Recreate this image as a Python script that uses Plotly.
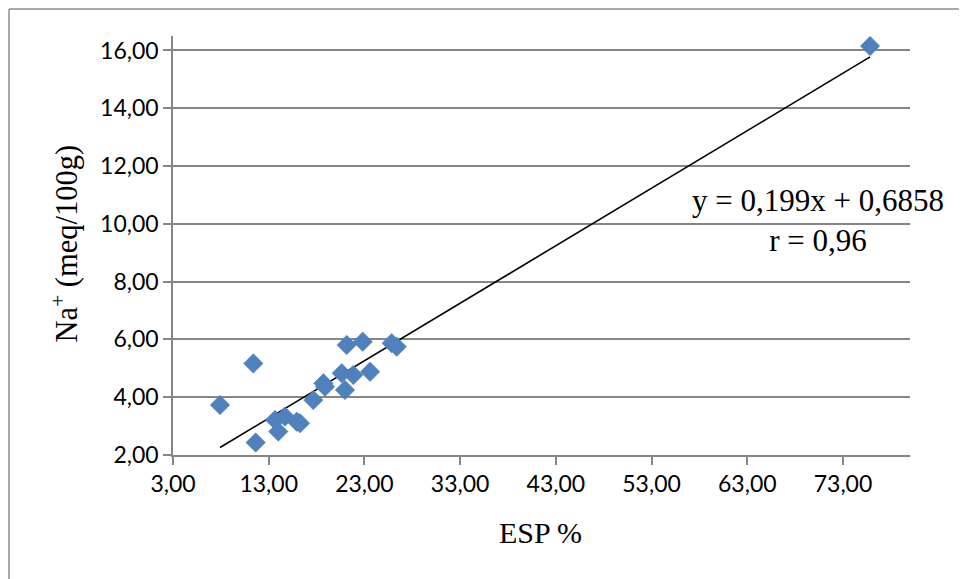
import plotly.graph_objects as go

# Data
esp = [7.91, 11.39, 11.64, 13.66, 14.00, 14.70, 15.93, 16.27, 17.66, 18.71,
       18.88, 20.63, 20.97, 21.15, 21.84, 22.82, 23.59, 25.85, 26.38, 75.83]
na = [3.73, 5.17, 2.43, 3.21, 2.81, 3.33, 3.15, 3.10, 3.90, 4.48,
      4.36, 4.83, 4.25, 5.81, 4.77, 5.92, 4.88, 5.87, 5.75, 16.15]

slope = 0.199
intercept = 0.6858
eq_label = "y = 0,199x + 0,6858<br>r = 0,96"

x_title = "ESP %"
y_title = "Na<sup>+</sup> (meq/100g)"

xmin, xmax = min(esp), max(esp)
trend_x = [xmin, xmax]
trend_y = [slope * v + intercept for v in trend_x]

fig = go.Figure()
fig.add_trace(go.Scatter(
    x=trend_x, y=trend_y, mode="lines",
    line=dict(color="black", width=1.6), hoverinfo="skip", showlegend=False))
fig.add_trace(go.Scatter(
    x=esp, y=na, mode="markers",
    marker=dict(symbol="diamond", size=15, color="#4F81BD",
                line=dict(color="#4A7EBB", width=0.5)),
    showlegend=False))

grid = "#868686"
axis_font = dict(family="Lato, Calibri, sans-serif", size=23, color="black")
serif = "Liberation Serif, Times New Roman, serif"

fig.update_layout(
    width=959, height=571,
    margin=dict(l=165, r=57, t=28, b=124),
    paper_bgcolor="white", plot_bgcolor="white",
    separators=", ",
    xaxis=dict(range=[3, 80], tick0=3, dtick=10, tickformat=".2f",
               showgrid=False, zeroline=False,
               showline=True, linecolor=grid, linewidth=1.5,
               ticks="outside", ticklen=8, tickcolor=grid, tickwidth=1.5,
               tickfont=axis_font),
    yaxis=dict(range=[2, 16.5], tick0=2, dtick=2, tickformat=".2f",
               showgrid=True, gridcolor=grid, gridwidth=1.5, zeroline=False,
               showline=True, linecolor=grid, linewidth=1.5,
               ticks="outside", ticklen=8, tickcolor=grid, tickwidth=1.5,
               tickfont=axis_font),
    annotations=[
        dict(text=eq_label, x=70.4, y=10.1, xref="x", yref="y",
             showarrow=False, align="center",
             font=dict(family=serif, size=31, color="black")),
        dict(text=x_title, x=0.498, y=-0.186, xref="paper", yref="paper",
             showarrow=False, xanchor="center", yanchor="middle",
             font=dict(family=serif, size=30, color="black")),
        dict(text=y_title, x=-0.1465, y=0.505, xref="paper", yref="paper",
             showarrow=False, xanchor="center", yanchor="middle", textangle=-90,
             font=dict(family=serif, size=30.5, color="black")),
    ],
    shapes=[
        dict(type="line", xref="paper", yref="paper",
             x0=-0.2225, x1=-0.2225, y0=-0.5, y1=1.0644,
             line=dict(color="#8c8c8c", width=1.5)),
        dict(type="line", xref="paper", yref="paper",
             x0=-0.2225, x1=1.2, y0=1.0644, y1=1.0644,
             line=dict(color="#8c8c8c", width=1.5)),
    ],
)

fig.write_html("out.html")
